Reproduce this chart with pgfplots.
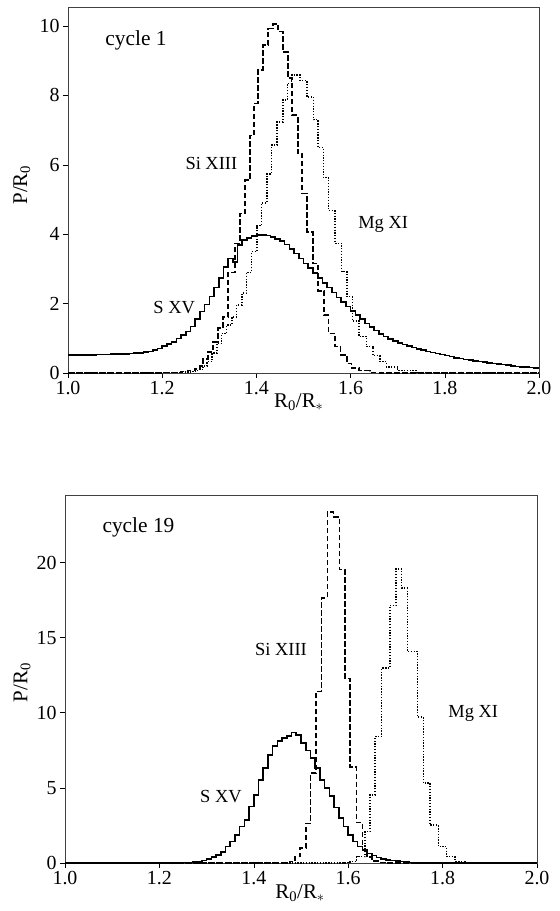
\documentclass[border=0pt]{standalone}
\usepackage{pgfplots}
\pgfplotsset{compat=1.18}
\usepackage{fontspec}
\setmainfont{Liberation Serif}
\begin{document}
\begin{tikzpicture}
\pgfplotsset{
  every axis/.append style={
    scale only axis,
    xmin=1, xmax=2, ymin=0,
    axis line style={black!75, line width=0.8bp},
    xtick={1,1.2,1.4,1.6,1.8,2},
    xticklabels={1.0,1.2,1.4,1.6,1.8,2.0},
    tick align=outside,
    tick pos=left,
    major tick length=5bp,
    tick style={black, line width=0.6bp},
    ticklabel style={font=\fontsize{20}{24}\selectfont},
    /pgf/number format/assume math mode=true,
    label style={font=\fontsize{21}{25}\selectfont},
  },
  sxv/.style={black, line width=1.6bp, const plot mark left},
  sixiii/.style={black, line width=1.5bp, const plot mark left, dash pattern=on 5.5bp off 2.5bp},
  mgxi/.style={black, line width=1.5bp, const plot mark left, dash pattern=on 1.3bp off 1.5bp},
}
\tikzset{
  lab/.style={anchor=west, font=\fontsize{18.5}{22}\selectfont},
  cyc/.style={anchor=west, font=\fontsize{21.5}{25}\selectfont},
}
% ---------------- top panel ----------------
\begin{axis}[
  at={(3bp,0bp)}, anchor=south west,
  width=471bp, height=366bp,
  ymax=10.55,
  ytick={0,2,4,6,8,10},
  xlabel={R\textsubscript{0}/R$_\ast$},
  ylabel={P/R\textsubscript{0}},
  xlabel style={at={(axis description cs:0.49,-0.079)}, anchor=center},
  ylabel style={at={(axis description cs:-0.098,0.514)}, anchor=center},
]
\addplot[sxv] coordinates {(1.00,0.52)(1.01,0.52)(1.02,0.52)(1.03,0.52)(1.04,0.52)(1.05,0.52)(1.06,0.53)(1.07,0.53)(1.08,0.53)(1.09,0.54)(1.10,0.54)(1.11,0.55)(1.12,0.55)(1.13,0.56)(1.14,0.57)(1.15,0.58)(1.16,0.60)(1.17,0.62)(1.18,0.66)(1.19,0.71)(1.20,0.77)(1.21,0.83)(1.22,0.90)(1.23,0.99)(1.24,1.09)(1.25,1.20)(1.26,1.34)(1.27,1.55)(1.28,1.77)(1.29,1.97)(1.30,2.20)(1.31,2.47)(1.32,2.73)(1.33,3.06)(1.34,3.30)(1.35,3.20)(1.36,3.69)(1.37,3.83)(1.38,3.90)(1.39,3.95)(1.40,3.98)(1.41,3.98)(1.42,3.96)(1.43,3.92)(1.44,3.87)(1.45,3.80)(1.46,3.70)(1.47,3.58)(1.48,3.44)(1.49,3.30)(1.50,3.16)(1.51,3.02)(1.52,2.88)(1.53,2.74)(1.54,2.60)(1.55,2.46)(1.56,2.32)(1.57,2.18)(1.58,2.05)(1.59,1.92)(1.60,1.79)(1.61,1.67)(1.62,1.55)(1.63,1.43)(1.64,1.32)(1.65,1.22)(1.66,1.13)(1.67,1.05)(1.68,0.98)(1.69,0.92)(1.70,0.87)(1.71,0.82)(1.72,0.78)(1.73,0.74)(1.74,0.70)(1.75,0.66)(1.76,0.62)(1.77,0.59)(1.78,0.56)(1.79,0.53)(1.80,0.50)(1.81,0.47)(1.82,0.44)(1.83,0.42)(1.84,0.39)(1.85,0.37)(1.86,0.35)(1.87,0.33)(1.88,0.31)(1.89,0.29)(1.90,0.27)(1.91,0.255)(1.92,0.24)(1.93,0.225)(1.94,0.21)(1.95,0.19)(1.96,0.18)(1.97,0.165)(1.98,0.155)(1.99,0.14)(2.00,0.14)};
\addplot[sixiii] coordinates {(1.00,0)(1.20,0.01)(1.22,0.02)(1.24,0.04)(1.255,0.07)(1.27,0.12)(1.28,0.2)(1.287,0.4)(1.297,0.61)(1.308,0.9)(1.318,1.29)(1.329,1.62)(1.340,2.9)(1.355,3.74)(1.365,4.6)(1.376,5.56)(1.386,6.85)(1.395,7.77)(1.403,8.73)(1.414,9.45)(1.425,9.93)(1.435,10.06)(1.446,9.84)(1.456,9.26)(1.467,8.5)(1.476,7.43)(1.488,6.33)(1.497,5.18)(1.507,4.07)(1.520,3.15)(1.531,2.37)(1.544,1.67)(1.553,1.14)(1.567,0.76)(1.579,0.52)(1.592,0.28)(1.602,0.14)(1.618,0.07)(1.641,0.02)(1.662,0)(2.0,0)};
\addplot[mgxi] coordinates {(1.00,0)(1.20,0.01)(1.24,0.03)(1.26,0.05)(1.275,0.1)(1.287,0.2)(1.295,0.33)(1.306,0.57)(1.316,0.85)(1.326,1.14)(1.337,1.38)(1.348,1.62)(1.358,1.96)(1.369,2.3)(1.379,2.9)(1.390,3.5)(1.401,4.25)(1.411,4.9)(1.422,5.74)(1.432,6.57)(1.444,7.24)(1.456,7.87)(1.466,8.35)(1.475,8.59)(1.493,8.43)(1.507,7.96)(1.521,7.3)(1.531,6.5)(1.542,5.63)(1.553,4.68)(1.567,3.74)(1.581,2.92)(1.592,2.2)(1.604,1.5)(1.618,1.05)(1.634,0.76)(1.648,0.5)(1.662,0.33)(1.676,0.18)(1.70,0.07)(1.74,0.02)(1.78,0)(2.0,0)};
\node[cyc] at (axis cs:1.072,9.6) {cycle 1};
\node[lab] at (axis cs:1.242,6.05) {Si XIII};
\node[lab] at (axis cs:1.609,4.27) {Mg XI};
\node[lab] at (axis cs:1.174,1.89) {S XV};
\end{axis}
% ---------------- bottom panel ----------------
\begin{axis}[
  at={(0bp,-490bp)}, anchor=south west,
  width=472bp, height=368bp,
  ymax=24.5,
  ytick={0,5,10,15,20},
  xlabel={R\textsubscript{0}/R$_\ast$},
  ylabel={P/R\textsubscript{0}},
  xlabel style={at={(axis description cs:0.498,-0.082)}, anchor=center},
  ylabel style={at={(axis description cs:-0.091,0.49)}, anchor=center},
]
\addplot[sxv] coordinates {(1.00,0)(1.22,0.01)(1.24,0.02)(1.25,0.03)(1.26,0.04)(1.27,0.07)(1.28,0.11)(1.29,0.17)(1.30,0.25)(1.31,0.38)(1.32,0.53)(1.33,0.75)(1.34,1.09)(1.35,1.42)(1.36,1.87)(1.37,2.42)(1.38,2.87)(1.39,3.76)(1.40,4.53)(1.41,5.53)(1.42,6.31)(1.43,7.2)(1.44,7.8)(1.45,8.13)(1.46,8.31)(1.47,8.47)(1.48,8.69)(1.49,8.53)(1.50,7.98)(1.51,7.49)(1.52,6.98)(1.53,6.31)(1.54,5.53)(1.55,4.98)(1.56,4.45)(1.57,3.7)(1.58,2.98)(1.59,2.42)(1.60,1.87)(1.61,1.42)(1.62,1.09)(1.63,0.87)(1.64,0.64)(1.65,0.49)(1.66,0.36)(1.67,0.28)(1.68,0.21)(1.69,0.16)(1.70,0.12)(1.71,0.09)(1.72,0.06)(1.73,0.04)(1.74,0.02)(1.75,0.01)(1.76,0)(2.0,0)};
\addplot[sixiii] coordinates {(1.00,0)(1.4767,0.1)(1.4873,0.42)(1.4979,1.0)(1.5106,2.64)(1.5206,5.98)(1.5318,11.42)(1.5439,17.65)(1.5557,23.36)(1.5684,23.04)(1.5811,19.53)(1.5932,12.3)(1.6038,6.38)(1.6180,2.69)(1.6299,0.9)(1.6398,0.4)(1.6504,0.15)(1.6631,0.05)(1.678,0)(2.0,0)};
\addplot[mgxi] coordinates {(1.00,0)(1.5932,0.02)(1.6038,0.1)(1.6180,0.42)(1.6356,2.09)(1.6462,4.53)(1.6568,8.42)(1.6710,12.98)(1.6886,17.13)(1.7013,19.58)(1.7133,18.3)(1.7252,14.09)(1.7464,9.71)(1.7591,5.31)(1.7733,2.53)(1.7909,1.09)(1.8087,0.42)(1.8263,0.1)(1.8475,0)(2.0,0)};
\node[cyc] at (axis cs:1.072,22.33) {cycle 19};
\node[lab] at (axis cs:1.3955,14.2) {Si XIII};
\node[lab] at (axis cs:1.805,9.98) {Mg XI};
\node[lab] at (axis cs:1.279,4.42) {S XV};
\end{axis}
\pgfresetboundingbox
\path[use as bounding box] (-65bp,-538bp) rectangle (495bp,373bp);
\end{tikzpicture}
\end{document}
